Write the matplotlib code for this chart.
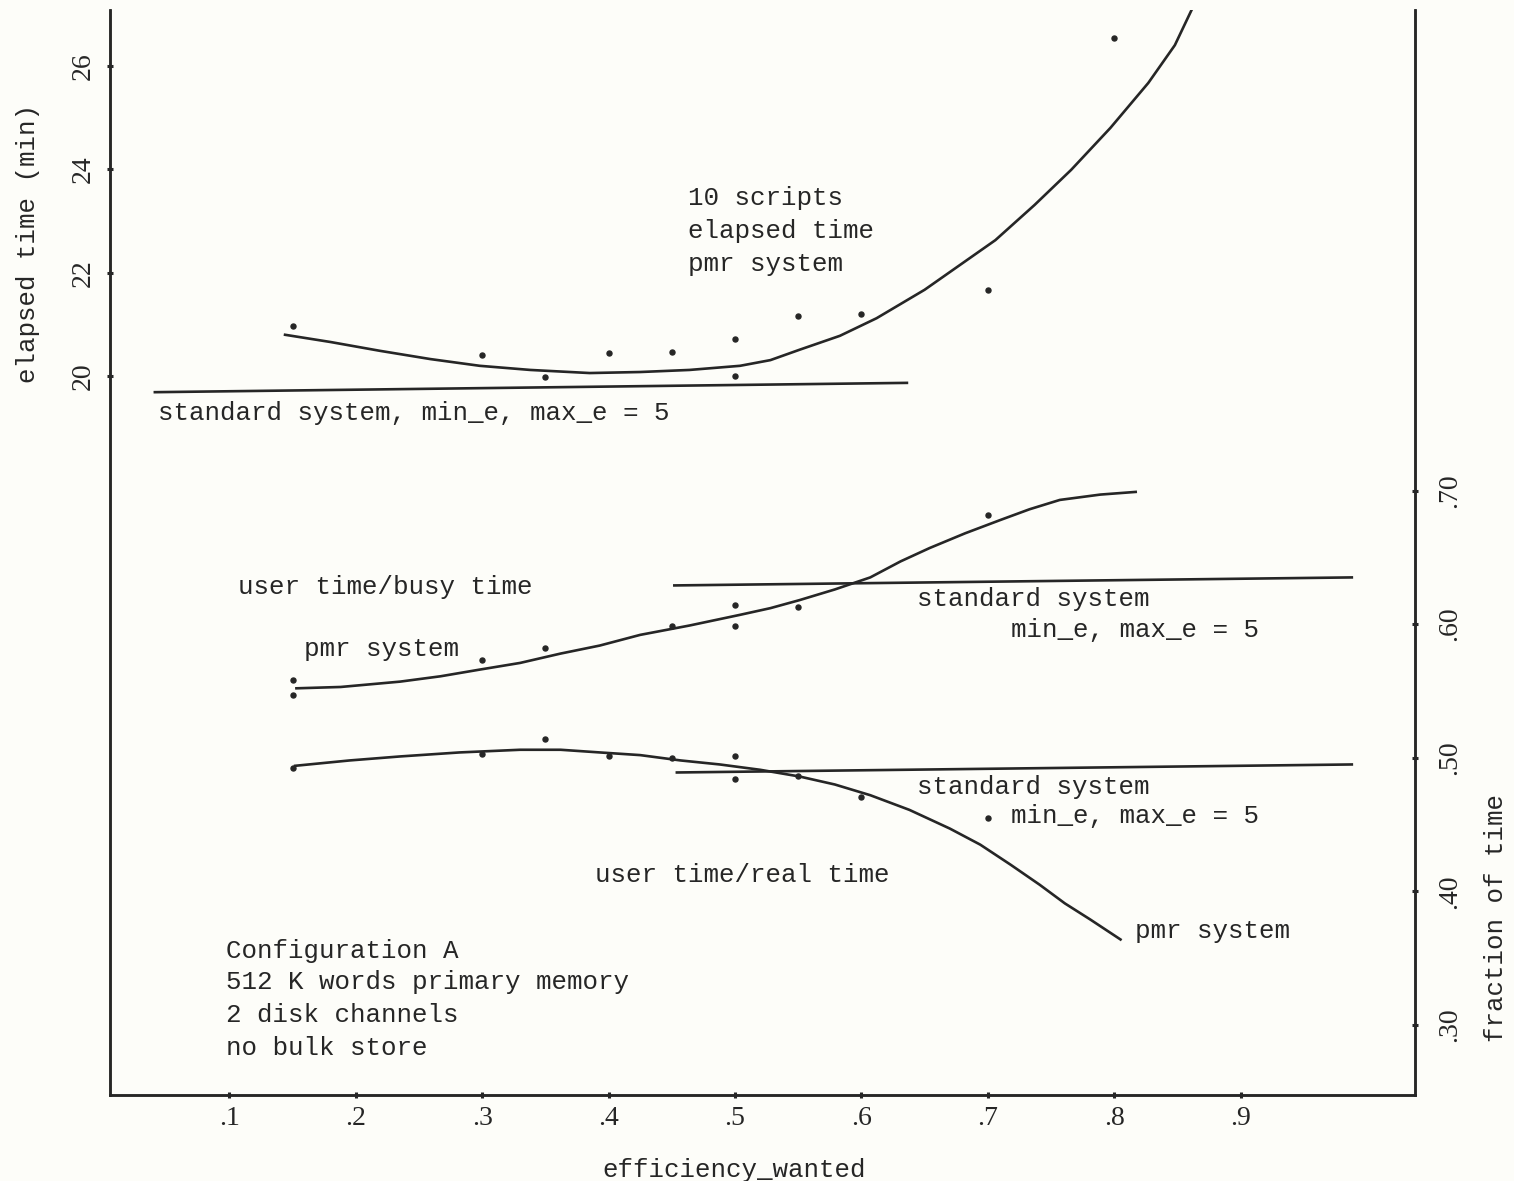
import matplotlib
matplotlib.use("Agg")
import matplotlib.pyplot as plt

# ---------------- data ----------------
# elapsed time (left axis, minutes), pmr system measurements
elapsed_x = [0.15, 0.30, 0.35, 0.40, 0.45, 0.50, 0.50, 0.55, 0.60, 0.70, 0.80]
elapsed_y = [20.97, 20.41, 19.99, 20.45, 20.47, 20.72, 20.00, 21.17, 21.20, 21.67, 26.54]
# hand-drawn fit curve for elapsed time
elapsed_fit_x = [0.144, 0.180, 0.219, 0.259, 0.298, 0.338, 0.385, 0.425, 0.464, 0.504,
                 0.528, 0.551, 0.583, 0.612, 0.650, 0.678, 0.706, 0.737, 0.766, 0.797,
                 0.827, 0.848, 0.862]
elapsed_fit_y = [20.80, 20.66, 20.49, 20.33, 20.20, 20.12, 20.06, 20.08, 20.12, 20.20,
                 20.31, 20.51, 20.78, 21.12, 21.67, 22.15, 22.63, 23.31, 23.99, 24.80,
                 25.67, 26.40, 27.12]
# standard system elapsed time
elapsed_std_x = [0.041, 0.636]
elapsed_std_y = [19.69, 19.87]

# user time / busy time (right axis, fraction)
busy_x = [0.15, 0.15, 0.30, 0.35, 0.45, 0.50, 0.50, 0.55, 0.70]
busy_y = [0.558, 0.547, 0.573, 0.582, 0.599, 0.614, 0.599, 0.613, 0.682]
busy_fit_x = [0.153, 0.188, 0.235, 0.267, 0.298, 0.330, 0.362, 0.393, 0.425, 0.464,
              0.504, 0.528, 0.551, 0.579, 0.607, 0.631, 0.654, 0.682, 0.710, 0.733,
              0.757, 0.789, 0.817]
busy_fit_y = [0.552, 0.553, 0.557, 0.561, 0.566, 0.571, 0.578, 0.584, 0.592, 0.599,
              0.607, 0.612, 0.618, 0.626, 0.635, 0.647, 0.657, 0.668, 0.678, 0.686,
              0.693, 0.697, 0.699]
busy_std_x = [0.452, 0.988]
busy_std_y = [0.629, 0.635]

# user time / real time (right axis, fraction)
real_x = [0.15, 0.30, 0.35, 0.40, 0.45, 0.50, 0.50, 0.55, 0.60, 0.70]
real_y = [0.492, 0.503, 0.514, 0.501, 0.500, 0.501, 0.484, 0.486, 0.471, 0.455]
real_fit_x = [0.152, 0.195, 0.235, 0.282, 0.330, 0.362, 0.393, 0.425, 0.457, 0.488,
              0.520, 0.551, 0.579, 0.607, 0.638, 0.670, 0.694, 0.718, 0.741, 0.761,
              0.781, 0.805]
real_fit_y = [0.494, 0.498, 0.501, 0.504, 0.506, 0.506, 0.504, 0.502, 0.498, 0.495,
              0.491, 0.486, 0.480, 0.472, 0.461, 0.447, 0.435, 0.420, 0.405, 0.391,
              0.379, 0.364]
real_std_x = [0.454, 0.988]
real_std_y = [0.489, 0.495]

x_ticks = [0.1, 0.2, 0.3, 0.4, 0.5, 0.6, 0.7, 0.8, 0.9]
x_ticklabels = [".1", ".2", ".3", ".4", ".5", ".6", ".7", ".8", ".9"]
left_ticks = [20, 22, 24, 26]
left_ticklabels = ["20", "22", "24", "26"]
right_ticks = [0.30, 0.40, 0.50, 0.60, 0.70]
right_ticklabels = [".30", ".40", ".50", ".60", ".70"]

# ---------------- style ----------------
INK = "#262626"
BG = "#fdfdf9"
MONO = "Liberation Mono"
SERIF = "Liberation Serif"
TS = 18.6

fig = plt.figure(figsize=(15.14, 11.81), dpi=100, facecolor=BG)
ax = fig.add_axes([110 / 1514, 86 / 1181, (1415 - 110) / 1514, (1095 - 10) / 1181])
ax.set_facecolor(BG)
ax2 = ax.twinx()

ax.set_xlim(0.0055, 1.038)
ax.set_ylim(6.10, 27.08)
ax2.set_ylim(0.2476, 1.0597)

for a in (ax, ax2):
    a.spines["top"].set_visible(False)
    for s in ("left", "right", "bottom"):
        a.spines[s].set_color(INK)
        a.spines[s].set_linewidth(1.8)

ax.set_xticks(x_ticks)
ax.set_xticklabels(x_ticklabels, family=SERIF, fontsize=20, color=INK)
ax.set_yticks(left_ticks)
ax.set_yticklabels(left_ticklabels, family=SERIF, fontsize=20, color=INK,
                   rotation=90, va="center")
ax2.set_yticks(right_ticks)
ax2.set_yticklabels(right_ticklabels, family=SERIF, fontsize=20, color=INK,
                    rotation=90, va="center")
ax.tick_params(axis="x", direction="inout", length=4, width=2.2, color=INK, pad=6)
ax.tick_params(axis="y", direction="inout", length=4, width=2.2, color=INK, pad=8)
ax2.tick_params(axis="y", direction="inout", length=4, width=2.2, color=INK, pad=14)

ax.set_xlabel("efficiency_wanted", family=MONO, fontsize=TS, color=INK, labelpad=22)
ax.xaxis.set_label_coords(0.478, -0.058)
ax.set_ylabel("elapsed time (min)", family=MONO, fontsize=TS, color=INK)
ax.yaxis.set_label_coords(-0.054, 0.785)
ax2.set_ylabel("fraction of time", family=MONO, fontsize=TS, color=INK, rotation=90)
ax2.yaxis.set_label_coords(1.053, 0.163)

lw = 1.9
# elapsed time
ax.plot(elapsed_fit_x, elapsed_fit_y, color=INK, lw=lw, solid_joinstyle="round")
ax.plot(elapsed_std_x, elapsed_std_y, color=INK, lw=lw)
ax.plot(elapsed_x, elapsed_y, ls="none", marker="o", ms=3.6, color=INK)

# busy
ax2.plot(busy_fit_x, busy_fit_y, color=INK, lw=lw, solid_joinstyle="round")
ax2.plot(busy_std_x, busy_std_y, color=INK, lw=lw)
ax2.plot(busy_x, busy_y, ls="none", marker="o", ms=3.6, color=INK)

# real
ax2.plot(real_fit_x, real_fit_y, color=INK, lw=lw, solid_joinstyle="round")
ax2.plot(real_std_x, real_std_y, color=INK, lw=lw)
ax2.plot(real_x, real_y, ls="none", marker="o", ms=3.6, color=INK)


def note(px, py, s, **kw):
    fig.text(px / 1514, 1 - py / 1181, s, family=MONO, fontsize=TS, color=INK,
             va="center", ha="left", **kw)


note(688, 198, "10 scripts")
note(688, 231, "elapsed time")
note(688, 264, "pmr system")
note(158, 413, "standard system, min_e, max_e = 5")
note(238, 587, "user time/busy time")
note(304, 649, "pmr system")
note(917, 599, "standard system")
note(1011, 630, "min_e, max_e = 5")
note(917, 787, "standard system")
note(1011, 816, "min_e, max_e = 5")
note(595, 875, "user time/real time")
note(1135, 931, "pmr system")
note(226, 951, "Configuration A")
note(226, 982, "512 K words primary memory")
note(226, 1015, "2 disk channels")
note(226, 1048, "no bulk store")

fig.savefig("out.png", dpi=100, facecolor=BG)
